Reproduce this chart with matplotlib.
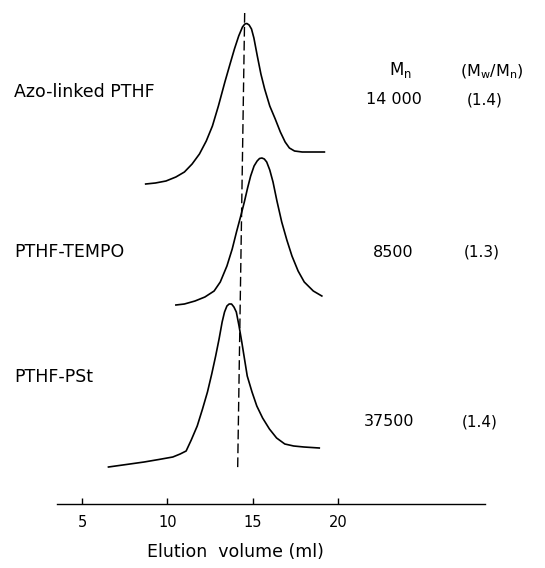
import numpy as np
import matplotlib.pyplot as plt

# GPC traces (elution volume in ml, detector response in arbitrary units)
v_azo = [8.73, 9.3, 9.92, 10.5, 11.0, 11.45, 11.88, 12.28, 12.64, 12.99, 13.37, 13.69, 13.93, 14.18,
         14.4, 14.54, 14.66, 14.79, 14.93, 15.07, 15.27, 15.48, 15.7, 16.0, 16.32, 16.62, 16.9,
         17.15, 17.45, 17.9, 19.2]
r_azo = [320, 321, 323, 327, 332, 340, 350, 363, 378, 398, 422, 441, 455, 468,
         477, 480, 480.5, 479, 475, 466, 448, 430, 415, 398, 385, 372, 362,
         356, 353, 352, 352]

v_tempo = [10.5, 11.0, 11.62, 12.2, 12.74, 13.1, 13.49, 13.8, 14.05, 14.3, 14.51, 14.7, 14.88,
           15.08, 15.26, 15.4, 15.54, 15.68, 15.82, 16.0, 16.19, 16.42, 16.7, 17.0, 17.3,
           17.66, 18.02, 18.55, 19.05]
r_tempo = [199, 200, 203, 207, 213, 222, 238, 255, 272, 288, 302, 316, 328,
           338, 343, 345.5, 346, 345, 342, 334, 322, 303, 282, 264, 248,
           233, 222, 213, 208]

v_pst = [6.55, 7.6, 8.64, 9.5, 10.32, 10.75, 11.1, 11.4, 11.75, 12.06, 12.35, 12.6, 12.83, 13.03,
         13.21, 13.35, 13.49, 13.62, 13.76, 13.9, 14.04, 14.2, 14.36, 14.52, 14.68, 14.96, 15.24,
         15.58, 15.98, 16.4, 16.88, 17.4, 18.0, 18.9]
r_pst = [37, 39.5, 42, 44.5, 47, 50, 53, 64, 78, 95, 112, 130, 148, 165,
         182, 192, 198, 200, 200, 197, 192, 178, 162, 145, 128, 112, 98,
         86, 75, 66, 60, 58, 57, 56]

# reference line through the azo-linked PTHF peak
ref_v = [14.53, 14.12]
ref_r = [491, 36]

names = ["Azo-linked PTHF", "PTHF-TEMPO", "PTHF-PSt"]
mn = ["14 000", "8500", "37500"]
pdi = ["(1.4)", "(1.3)", "(1.4)"]
ticks = [5, 10, 15, 20]

W, H = 545, 568
fig = plt.figure(figsize=(W / 100, H / 100), dpi=100)
ax = fig.add_axes([0, 0, 1, 1])

px_per_ml = 17.07
ax.set_xlim(5 - 82 / px_per_ml, 5 + (W - 82) / px_per_ml)
ax.set_ylim(-64, 504)

for v, r in [(v_azo, r_azo), (v_tempo, r_tempo), (v_pst, r_pst)]:
    ax.plot(v, r, color="black", lw=1.2, solid_joinstyle="round")

ax.plot(ref_v, ref_r, color="black", lw=1.0, linestyle=(0, (7, 3)))

# axis
for s in ["top", "right", "left"]:
    ax.spines[s].set_visible(False)
ax.spines["bottom"].set_position(("data", 0))
ax.spines["bottom"].set_bounds(3.54, 28.6)
ax.spines["bottom"].set_linewidth(1.0)
ax.set_yticks([])
ax.set_xticks(ticks)
ax.tick_params(axis="x", direction="in", length=4, width=1, pad=8, labelsize=10.5)
fig.text(235 / W, 1 - 552 / H, "Elution  volume (ml)", ha="center", va="center", fontsize=12.5)

# labels and molecular weight data
fs = 12.5
label_y = [92, 252, 377]
for name, py in zip(names, label_y):
    fig.text(14 / W, 1 - py / H, name, ha="left", va="center", fontsize=fs)
val_y = [100, 252, 422]
mn_x = [394, 393, 389]
pdi_x = [485, 482, 480]
for m, p, py, xm, xp in zip(mn, pdi, val_y, mn_x, pdi_x):
    fig.text(xm / W, 1 - py / H, m, ha="center", va="center", fontsize=11.5)
    fig.text(xp / W, 1 - py / H, p, ha="center", va="center", fontsize=11)

fig.text(400 / W, 1 - 70 / H, "M$_\\mathregular{n}$", ha="center", va="center", fontsize=12)
fig.text(492 / W, 1 - 72 / H, "(M$_\\mathregular{w}$/M$_\\mathregular{n}$)", ha="center", va="center", fontsize=11.5)

fig.savefig("out.png", dpi=100)
